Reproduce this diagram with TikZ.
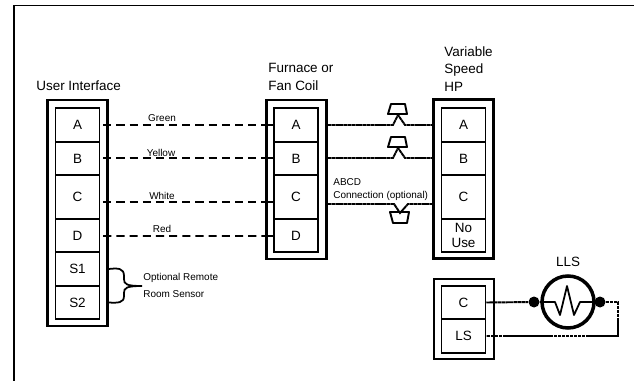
\documentclass[tikz,border=0pt]{standalone}
\usepackage{fontspec}
\setmainfont{Liberation Sans}
\usetikzlibrary{calc}
\tikzset{
	panel/.style={draw, line width=1.25pt, inner sep=0pt, minimum width=1.2cm},
	cell/.style={draw, line width=0.85pt, inner sep=0pt, minimum width=0.88cm, font=\fontsize{7.66}{8.6}\selectfont, align=center},
	title/.style={inner sep=0pt, anchor=west, align=left, font=\fontsize{7.66}{9.8}\selectfont},
	small/.style={inner sep=0pt, font=\fontsize{5.67}{7.4}\selectfont},
	wire/.style={line width=1.1pt, dash pattern=on 4.6pt off 2.9pt},
	fine/.style={line width=1.1pt, dash pattern=on 2pt off 0.25pt},
	plug/.style={line width=1.1pt, line join=round},
	dot/.style={circle, fill=black, inner sep=0pt, minimum size=0.22cm}
}
\begin{document}
\begin{tikzpicture}[x=0.02cm, y=-0.02cm]
	\useasboundingbox (0,0) rectangle (634,381);
	% Frame
	\draw[line width=1pt] (14,381) -- (14,5.5) -- (634,5.5);
	% User interface
	\node[panel, minimum height=4.52cm] (ui) at (77.5,213) {};
	\node[cell, minimum height=0.68cm] (uiA) at (77.5,125) {A};
	\node[cell, minimum height=0.66cm] (uiB) at (77.5,158.5) {B};
	\node[cell, minimum height=0.88cm] (uiC) at (77.5,197) {C};
	\node[cell, minimum height=0.66cm] (uiD) at (77.5,235.5) {D};
	\node[cell, minimum height=0.68cm] (uiS1) at (77.5,269) {S1};
	\node[cell, minimum height=0.66cm] (uiS2) at (77.5,302.5) {S2};
	\node[title] (uititle) at (36,86) {User Interface};
	% Furnace or fan coil
	\node[panel, minimum height=3.18cm] (fc) at (296.5,179.5) {};
	\node[cell, minimum height=0.68cm] (fcA) at (296,125) {A};
	\node[cell, minimum height=0.66cm] (fcB) at (296,158.5) {B};
	\node[cell, minimum height=0.88cm] (fcC) at (296,197) {C};
	\node[cell, minimum height=0.66cm] (fcD) at (296,235.5) {D};
	\node[title] (fctitle) at (268,77) {Furnace or\\Fan Coil};
	% Variable speed HP
	\node[panel, minimum height=3.18cm] (hp) at (463.5,179) {};
	\node[cell, minimum height=0.68cm] (hpA) at (463.5,125) {A};
	\node[cell, minimum height=0.66cm] (hpB) at (463.5,158.5) {B};
	\node[cell, minimum height=0.88cm] (hpC) at (463.5,197) {C};
	\node[cell, minimum height=0.66cm] (hpN) at (463.5,235.5) {No\\Use};
	\node[title] (hptitle) at (444,69) {Variable\\Speed\\HP};
	% LLS terminals
	\node[panel, minimum height=1.6cm] (ls) at (464,319) {};
	\node[cell, minimum height=0.66cm] (lsC) at (463.5,302.5) {C};
	\node[cell, minimum height=0.68cm] (lsL) at (463.5,336) {LS};
	% Sensor
	\node[draw, circle, line width=2pt, inner sep=0pt, minimum size=1.04cm] (lls) at (568,302) {};
	\node[dot] (dotL) at (534,302) {};
	\node[dot] (dotR) at (600,302) {};
	\node[title, anchor=center] (llstitle) at (568,262) {LLS};
	\coordinate (corner1) at (618,302);
	\coordinate (corner2) at (618,336);
	% Wires
	\draw[wire, shorten <=0.06cm] (uiA.east) -- (fc.west |- uiA.east);
	\draw[wire, shorten <=0.06cm] ($(uiB.east)+(0,-0.5)$) -- (fc.west |- 0,158);
	\draw[wire, shorten <=0.06cm] ($(uiC.east)+(0,5)$) -- (fc.west |- 0,202);
	\draw[wire, shorten <=0.06cm] ($(uiD.east)+(0,0.5)$) -- (fc.west |- 0,236);
	\draw[line width=1.1pt] (fc.west |- fcA.west) -- (fcA.west);
	\draw[line width=1.1pt] (fc.west |- 0,158) -- ($(fcB.west)+(0,-0.5)$);
	\draw[line width=1.1pt] (fc.west |- 0,202) -- ($(fcC.west)+(0,5)$);
	\draw[line width=1.1pt] (fc.west |- 0,236) -- ($(fcD.west)+(0,0.5)$);
	\node[small] (green) at (162,118) {Green};
	\node[small] (yellow) at (161,152.5) {Yellow};
	\node[small] (white) at (162,196) {White};
	\node[small] (red) at (162,229) {Red};
	% ABCD connection
	\draw[fine] (fc.east |- fcA.east) -- (393,125) -- (398,115) -- (405,125) -- (hp.west |- hpA.east);
	\draw[fine] (fc.east |- 0,158) -- (393,158) -- (398,148) -- (405,158) -- (hp.west |- 0,158);
	\draw[fine] (fc.east |- 0,204) -- (394,204) -- (400,213) -- (408,204) -- (432,204);
	\draw[plug] (388,114) -- (391,104) -- (405,104) -- (407,114) -- cycle;
	\draw[plug] (388,147) -- (391,137) -- (405,137) -- (407,147) -- cycle;
	\draw[plug] (390,212) -- (409,212) -- (407,223) -- (393,223) -- cycle;
	\node[small, anchor=west, align=left] (abcd) at (333,189.5) {ABCD\\Connection (optional)};
	% Brace
	\draw[line width=1pt] (uiS1.east -| ui.east) .. controls (118,268) and (124,268) .. (124,276) -- (124,279)
		.. controls (124,284) and (126,286) .. (142,286)
		.. controls (126,286) and (124,288) .. (124,293) -- (124,296)
		.. controls (124,303) and (118,303) .. (uiS2.east -| ui.east);
	\node[small, anchor=west, align=left, font=\fontsize{5.67}{9.6}\selectfont] (remote) at (143,285.5) {Optional Remote\\Room Sensor};
	% Sensor wiring
	\draw[fine] (lsC.east) -- (dotL);
	\draw[fine] (dotR) -- (corner1) -- (corner2) -- (lsL.east);
	\draw[line width=1pt, line join=round] (dotL) -- (555,302) -- (560,315) -- (567,286) -- (574,315) -- (580,302) -- (dotR);
\end{tikzpicture}
\end{document}
